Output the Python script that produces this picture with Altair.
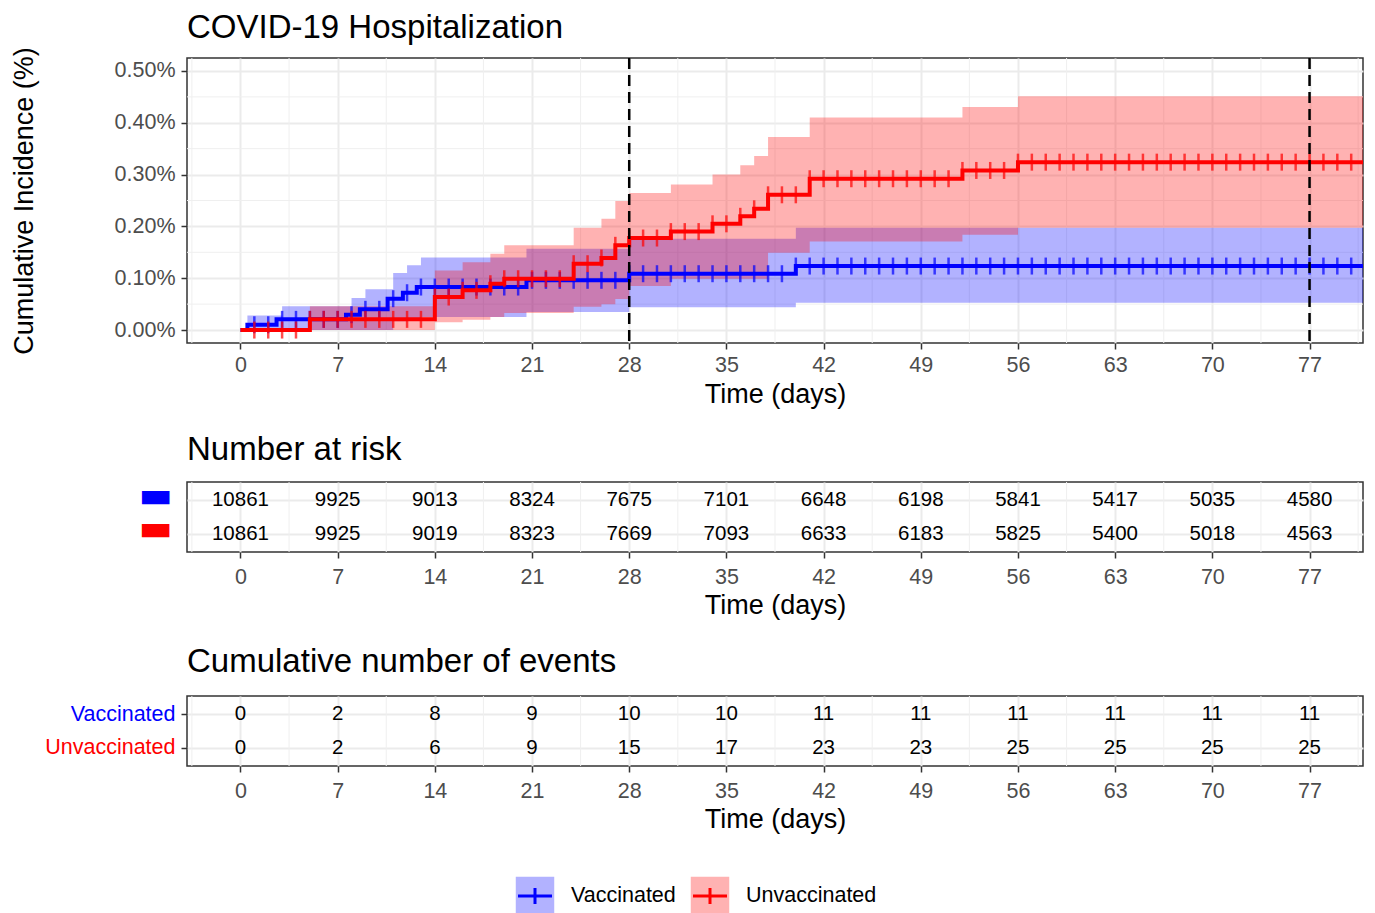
import altair as alt
import pandas as pd

FONT = "Liberation Sans"
GROUPS = ["Vaccinated", "Unvaccinated"]
LINE_COLORS = ["#0000FF", "#FF0000"]

TIME_BREAKS = [0, 7, 14, 21, 28, 35, 42, 49, 56, 63, 70, 77]
TIME_MINOR = [-3.5, 3.5, 10.5, 17.5, 24.5, 31.5, 38.5, 45.5, 52.5, 59.5, 66.5, 73.5, 80.5]
PCT_BREAKS = [0.0, 0.1, 0.2, 0.3, 0.4, 0.5]
PCT_MINOR = [0.05, 0.15, 0.25, 0.35, 0.45]
DASHED_DAYS = [28, 77]
X_DOMAIN = [-3.85, 80.85]
Y_DOMAIN = [-0.025, 0.525]
LAST_DAY = 81

# cumulative incidence (%) step curves
VAC_LINE_T = [0, 0.5, 2.6, 7.6, 8.6, 10.6, 11.7, 12.7, 20.6, 28, 40]
VAC_LINE_V = [0, 0.0102, 0.0206, 0.0296, 0.040, 0.0605, 0.072, 0.083, 0.096, 0.1087, 0.1235]
VAC_BAND_T = [0.5, 3, 8, 9, 11, 12, 13, 20.6, 28, 40]
VAC_BAND_LO = [0, 0, 0, 0, 0.017, 0.02, 0.025, 0.035, 0.044, 0.0527]
VAC_BAND_HI = [0.028, 0.046, 0.062, 0.0785, 0.11, 0.125, 0.14, 0.157, 0.176, 0.1975]

UNV_LINE_T = [0, 5, 14, 16, 18, 19, 24, 26, 27, 28, 31, 34, 36, 37, 38, 41, 52, 56]
UNV_LINE_V = [0, 0.0206, 0.0637, 0.0766, 0.0894, 0.099, 0.128, 0.139, 0.1635, 0.1776,
              0.19, 0.205, 0.2195, 0.234, 0.261, 0.292, 0.308, 0.324]
UNV_BAND_T = [5, 14, 16, 18, 19, 24, 26, 27, 28, 31, 34, 36, 37, 38, 41, 52, 56]
UNV_BAND_LO = [0, 0.015, 0.02, 0.025, 0.033, 0.045, 0.05, 0.06, 0.085, 0.099, 0.099,
               0.099, 0.099, 0.149, 0.171, 0.184, 0.1975]
UNV_BAND_HI = [0.046, 0.115, 0.131, 0.147, 0.1635, 0.1975, 0.215, 0.249, 0.2645, 0.281,
               0.30, 0.318, 0.336, 0.3726, 0.41, 0.4305, 0.451]

CENSOR_DAYS = list(range(1, 81))

RISK_VAC = [10861, 9925, 9013, 8324, 7675, 7101, 6648, 6198, 5841, 5417, 5035, 4580]
RISK_UNV = [10861, 9925, 9019, 8323, 7669, 7093, 6633, 6183, 5825, 5400, 5018, 4563]
EVENTS_VAC = [0, 2, 8, 9, 10, 10, 11, 11, 11, 11, 11, 11]
EVENTS_UNV = [0, 2, 6, 9, 15, 17, 23, 23, 25, 25, 25, 25]

W = 1176
H_TOP = 285
H_TAB = 70
TITLE_SIZE = 33
LABEL_SIZE = 21.5
AXIS_TITLE_SIZE = 27


def step_frame(times, **cols):
    d = {"t": list(times) + [LAST_DAY]}
    for k, v in cols.items():
        d[k] = list(v) + [v[-1]]
    return pd.DataFrame(d)


def value_at(times, vals, day):
    out = vals[0]
    for t, v in zip(times, vals):
        if t <= day:
            out = v
    return out


def censor_frame(times, vals):
    return pd.DataFrame({"t": CENSOR_DAYS, "v": [value_at(times, vals, d) for d in CENSOR_DAYS]})


x_scale = alt.Scale(domain=X_DOMAIN, nice=False, zero=False)


def x_enc(label_pad, title_pad):
    return alt.X("t:Q", scale=x_scale,
                 axis=alt.Axis(values=TIME_BREAKS, title="Time (days)", grid=True,
                               labelPadding=label_pad, titlePadding=title_pad))


X = x_enc(5, 6)

y_scale = alt.Scale(domain=Y_DOMAIN, nice=False, zero=False)
y_axis = alt.Axis(values=PCT_BREAKS, labelExpr="format(datum.value, '.2f') + '%'",
                  title="Cumulative Incidence (%)", grid=True, labelPadding=6, titlePadding=76)


def minor_x_rules(xe):
    return alt.Chart(pd.DataFrame({"t": TIME_MINOR})).mark_rule(color="#EFEFEF", strokeWidth=1).encode(x=xe)


minor_y = alt.Chart(pd.DataFrame({"v": PCT_MINOR})).mark_rule(color="#EFEFEF", strokeWidth=1).encode(
    y=alt.Y("v:Q", scale=y_scale, axis=y_axis))


def band(times, lo, hi, color):
    df = step_frame(times, v=lo, hi=hi)
    return alt.Chart(df).mark_area(interpolate="step-after", color=color, opacity=0.3, clip=True).encode(
        x=X, y=alt.Y("v:Q", scale=y_scale, axis=y_axis), y2="hi:Q")


def curve(times, vals, color):
    df = step_frame(times, v=vals)
    line = alt.Chart(df).mark_line(interpolate="step-after", color=color, strokeWidth=4, clip=True).encode(
        x=X, y=alt.Y("v:Q", scale=y_scale, axis=y_axis))
    ticks = alt.Chart(censor_frame(times, vals)).mark_tick(
        color=color, orient="vertical", size=17, thickness=2.5).encode(
        x=X, y=alt.Y("v:Q", scale=y_scale, axis=y_axis))
    return line + ticks


dashed = alt.Chart(pd.DataFrame({"t": DASHED_DAYS})).mark_rule(
    color="black", strokeWidth=2.5, strokeDash=[11, 6]).encode(x=X)

top = alt.layer(
    minor_x_rules(X), minor_y,
    band(VAC_BAND_T, VAC_BAND_LO, VAC_BAND_HI, LINE_COLORS[0]),
    band(UNV_BAND_T, UNV_BAND_LO, UNV_BAND_HI, LINE_COLORS[1]),
    curve(VAC_LINE_T, VAC_LINE_V, LINE_COLORS[0]),
    curve(UNV_LINE_T, UNV_LINE_V, LINE_COLORS[1]),
    dashed,
).properties(
    width=W, height=H_TOP,
    title=alt.TitleParams("COVID-19 Hospitalization", offset=2),
)

label_color = {"condition": {"test": "datum.value === 'Vaccinated'", "value": LINE_COLORS[0]},
               "value": LINE_COLORS[1]}


def table(values_vac, values_unv, title, bar_labels, title_offset):
    df = pd.DataFrame({
        "t": TIME_BREAKS * 2,
        "group": [GROUPS[0]] * len(TIME_BREAKS) + [GROUPS[1]] * len(TIME_BREAKS),
        "n": list(values_vac) + list(values_unv),
    })
    if bar_labels:
        yax = alt.Axis(title=None, ticks=False, grid=True, labelExpr="'\u25ac'", labelFont="DejaVu Sans",
                       labelFontSize=36, labelColor=label_color, labelPadding=15, labelOffset=-5)
    else:
        yax = alt.Axis(title=None, ticks=True, grid=True, labelColor=label_color, labelPadding=6)
    Y = alt.Y("group:N", sort=GROUPS, scale=alt.Scale(type="point", padding=0.56), axis=yax)
    xt = x_enc(8, 5)
    txt = alt.Chart(df).mark_text(font=FONT, fontSize=20.5, color="black").encode(
        x=xt, y=Y, text=alt.Text("n:Q", format="d"))
    return alt.layer(minor_x_rules(xt), txt).properties(
        width=W, height=H_TAB, title=alt.TitleParams(title, offset=title_offset))


risk = table(RISK_VAC, RISK_UNV, "Number at risk", True, 10)
events = table(EVENTS_VAC, EVENTS_UNV, "Cumulative number of events", False, 17)

leg_df = pd.DataFrame({"group": GROUPS})
LX = alt.X("group:N", sort=GROUPS, scale=alt.Scale(type="point", range=[348, 523], padding=0), axis=None)
LC = alt.Color("group:N", scale=alt.Scale(domain=GROUPS, range=LINE_COLORS), legend=None)
leg_sq = alt.Chart(leg_df).mark_square(size=1480, opacity=0.3).encode(x=LX, color=LC)
leg_cross = alt.Chart(leg_df).mark_point(
    shape="M-1,0H1M0,-0.47V0.47", filled=False, size=1156, strokeWidth=3, opacity=1).encode(x=LX, color=LC)
leg_txt = alt.Chart(leg_df).mark_text(align="left", dx=36, font=FONT, fontSize=LABEL_SIZE, color="black").encode(
    x=LX, text="group:N")
legend = alt.layer(leg_sq, leg_cross, leg_txt).properties(
    width=W, height=38, view=alt.ViewBackground(stroke="transparent"))

inner = alt.vconcat(top, risk, events, spacing=24)
chart = alt.vconcat(inner, legend, spacing=42).properties(
    padding={"left": 1, "top": 2, "right": 0, "bottom": 0}
).configure_view(
    stroke="#333333", strokeWidth=1.5
).configure_axis(
    domain=False, tickColor="#333333", tickWidth=1.5, tickSize=6,
    labelFont=FONT, labelFontSize=LABEL_SIZE, labelColor="#4D4D4D",
    titleFont=FONT, titleFontSize=AXIS_TITLE_SIZE, titleFontWeight="normal", titleColor="black",
    gridColor="#EBEBEB", gridWidth=2,
).configure_title(
    font=FONT, fontSize=TITLE_SIZE, fontWeight="normal", color="black",
    anchor="start", frame="group", baseline="alphabetic",
)

chart.save("out.html", embed_options={"renderer": "svg", "actions": False})
